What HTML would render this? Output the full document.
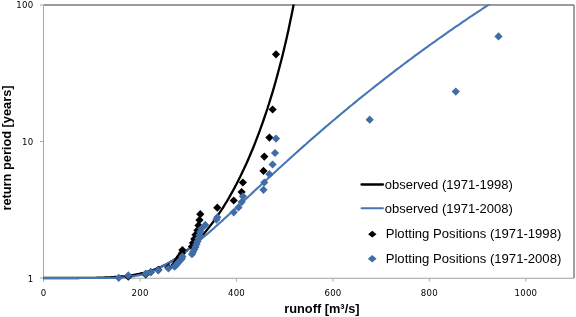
<!DOCTYPE html><html><head><meta charset="utf-8"><title>chart</title><style>html,body{margin:0;padding:0;background:#fff}svg{display:block}text{font-family:"Liberation Sans",sans-serif;fill:#000}.t{font-family:"DejaVu Sans",sans-serif;font-size:8.6px;letter-spacing:0.25px}.l{font-size:13px}.b{font-weight:bold}</style></head><body>
<svg width="576" height="317" viewBox="0 0 576 317">
<rect width="576" height="317" fill="#fff"/>
<clipPath id="c"><rect x="38.5" y="4.5" width="535.5" height="281.0"/></clipPath>
<g stroke="#7a7a7a" fill="none">
<path d="M43.5 5.0H574.0" stroke-width="1.6"/>
<path d="M574.0 5.0V278.0" stroke-width="1.4"/>
<path d="M43.5 5.0V278.0" stroke-width="1" stroke="#a8a8a8"/>
<path d="M43.5 278.2H574.0" stroke-width="1.1" stroke="#a2a2a2"/>
<path d="M40.0 5.0H43.5" stroke-width="1" stroke="#a8a8a8"/>
<path d="M40.0 141.5H43.5" stroke-width="1" stroke="#a8a8a8"/>
<path d="M40.0 278.0H43.5" stroke-width="1" stroke="#a8a8a8"/>
<path d="M43.5 278.0V281.5" stroke-width="1" stroke="#a8a8a8"/>
<path d="M140.0 278.0V281.5" stroke-width="1" stroke="#a8a8a8"/>
<path d="M236.4 278.0V281.5" stroke-width="1" stroke="#a8a8a8"/>
<path d="M332.9 278.0V281.5" stroke-width="1" stroke="#a8a8a8"/>
<path d="M429.3 278.0V281.5" stroke-width="1" stroke="#a8a8a8"/>
<path d="M525.8 278.0V281.5" stroke-width="1" stroke="#a8a8a8"/>
</g>
<text class="t" x="33.4" y="8.1" text-anchor="end">100</text>
<text class="t" x="33.4" y="144.6" text-anchor="end">10</text>
<text class="t" x="33.4" y="282.4" text-anchor="end">1</text>
<text class="t" x="43.6" y="296" text-anchor="middle">0</text>
<text class="t" x="140.1" y="296" text-anchor="middle">200</text>
<text class="t" x="236.5" y="296" text-anchor="middle">400</text>
<text class="t" x="333.0" y="296" text-anchor="middle">600</text>
<text class="t" x="429.4" y="296" text-anchor="middle">800</text>
<text class="t" x="525.9" y="296" text-anchor="middle">1000</text>
<text class="b" font-size="12.8" transform="translate(10.8 148) rotate(-90)" text-anchor="middle">return period [years]</text>
<text class="b" font-size="12.8" x="321.9" y="312.6" text-anchor="middle">runoff [m³/s]</text>
<g clip-path="url(#c)">
<path d="M43.5 278.0 L45.4 278.0 L47.4 278.0 L49.3 278.0 L51.2 278.0 L53.1 278.0 L55.1 278.0 L57.0 278.0 L58.9 278.0 L60.9 278.0 L62.8 278.0 L64.7 278.0 L66.6 278.0 L68.6 278.0 L70.5 278.0 L72.4 278.0 L74.4 278.0 L76.3 278.0 L78.2 278.0 L80.2 277.9 L82.1 277.9 L84.0 277.9 L85.9 277.9 L87.9 277.9 L89.8 277.9 L91.7 277.8 L93.7 277.8 L95.6 277.8 L97.5 277.7 L99.4 277.7 L101.4 277.6 L103.3 277.6 L105.2 277.5 L107.2 277.4 L109.1 277.3 L111.0 277.2 L112.9 277.1 L114.9 277.0 L116.8 276.9 L118.7 276.7 L120.7 276.5 L122.6 276.4 L124.5 276.2 L126.5 275.9 L128.4 275.7 L130.3 275.4 L132.2 275.1 L134.2 274.8 L136.1 274.5 L138.0 274.1 L140.0 273.7 L141.9 273.2 L143.8 272.8 L145.7 272.3 L147.7 271.7 L149.6 271.1 L151.5 270.5 L153.5 269.9 L155.4 269.2 L157.3 268.4 L159.2 267.6 L161.2 266.8 L163.1 265.9 L165.0 265.0 L167.0 264.0 L168.9 262.9 L170.8 261.8 L172.7 260.7 L174.7 259.5 L176.6 258.2 L178.5 256.9 L180.5 255.5 L182.4 254.1 L184.3 252.6 L186.3 251.0 L188.2 249.4 L190.1 247.7 L192.0 245.9 L194.0 244.1 L195.9 242.2 L197.8 240.2 L199.8 238.2 L201.7 236.1 L203.6 233.9 L205.5 231.7 L207.5 229.3 L209.4 226.9 L211.3 224.4 L213.3 221.8 L215.2 219.2 L217.1 216.5 L219.0 213.6 L221.0 210.7 L222.9 207.8 L224.8 204.7 L226.8 201.5 L228.7 198.2 L230.6 194.9 L232.6 191.4 L234.5 187.9 L236.4 184.2 L238.3 180.5 L240.3 176.6 L242.2 172.6 L244.1 168.5 L246.1 164.3 L248.0 160.0 L249.9 155.5 L251.8 151.0 L253.8 146.2 L255.7 141.4 L257.6 136.4 L259.6 131.2 L261.5 125.9 L263.4 120.5 L265.3 114.8 L267.3 109.0 L269.2 103.0 L271.1 96.8 L273.1 90.4 L275.0 83.7 L276.9 76.9 L278.8 69.7 L280.8 62.3 L282.7 54.7 L284.6 46.7 L286.6 38.3 L288.5 29.7 L290.4 20.6 L292.4 11.1 L294.3 1.2 L296.2 -9.2" fill="none" stroke="#000" stroke-width="2.3" stroke-linejoin="round"/>
<path d="M43.5 278.0 L45.4 278.0 L47.4 278.0 L49.3 278.0 L51.2 278.0 L53.1 278.0 L55.1 278.0 L57.0 278.0 L58.9 278.0 L60.9 278.0 L62.8 278.0 L64.7 278.0 L66.6 278.0 L68.6 278.0 L70.5 278.0 L72.4 278.0 L74.4 278.0 L76.3 278.0 L78.2 278.0 L80.2 278.0 L82.1 278.0 L84.0 278.0 L85.9 278.0 L87.9 278.0 L89.8 278.0 L91.7 278.0 L93.7 278.0 L95.6 278.0 L97.5 278.0 L99.4 278.0 L101.4 278.0 L103.3 278.0 L105.2 278.0 L107.2 278.0 L109.1 277.9 L111.0 277.9 L112.9 277.9 L114.9 277.8 L116.8 277.8 L118.7 277.7 L120.7 277.6 L122.6 277.5 L124.5 277.3 L126.5 277.2 L128.4 277.0 L130.3 276.7 L132.2 276.4 L134.2 276.1 L136.1 275.8 L138.0 275.4 L140.0 275.0 L141.9 274.5 L143.8 273.9 L145.7 273.4 L147.7 272.7 L149.6 272.1 L151.5 271.3 L153.5 270.6 L155.4 269.7 L157.3 268.9 L159.2 268.0 L161.2 267.0 L163.1 266.0 L165.0 264.9 L167.0 263.9 L168.9 262.7 L170.8 261.6 L172.7 260.4 L174.7 259.1 L176.6 257.8 L178.5 256.5 L180.5 255.2 L182.4 253.8 L184.3 252.4 L186.3 251.0 L188.2 249.5 L190.1 248.0 L192.0 246.5 L194.0 245.0 L195.9 243.4 L197.8 241.9 L199.8 240.3 L201.7 238.6 L203.6 237.0 L205.5 235.4 L207.5 233.7 L209.4 232.1 L211.3 230.4 L213.3 228.7 L215.2 227.0 L217.1 225.3 L219.0 223.5 L221.0 221.8 L222.9 220.1 L224.8 218.3 L226.8 216.5 L228.7 214.8 L230.6 213.0 L232.6 211.2 L234.5 209.5 L236.4 207.7 L238.3 205.9 L240.3 204.1 L242.2 202.3 L244.1 200.6 L246.1 198.8 L248.0 197.0 L249.9 195.2 L251.8 193.4 L253.8 191.6 L255.7 189.8 L257.6 188.0 L259.6 186.2 L261.5 184.5 L263.4 182.7 L265.3 180.9 L267.3 179.1 L269.2 177.3 L271.1 175.6 L273.1 173.8 L275.0 172.0 L276.9 170.3 L278.8 168.5 L280.8 166.7 L282.7 165.0 L284.6 163.2 L286.6 161.5 L288.5 159.7 L290.4 158.0 L292.4 156.2 L294.3 154.5 L296.2 152.8 L298.1 151.1 L300.1 149.3 L302.0 147.6 L303.9 145.9 L305.9 144.2 L307.8 142.5 L309.7 140.8 L311.6 139.1 L313.6 137.4 L315.5 135.7 L317.4 134.1 L319.4 132.4 L321.3 130.7 L323.2 129.1 L325.1 127.4 L327.1 125.7 L329.0 124.1 L330.9 122.5 L332.9 120.8 L334.8 119.2 L336.7 117.6 L338.7 115.9 L340.6 114.3 L342.5 112.7 L344.4 111.1 L346.4 109.5 L348.3 107.9 L350.2 106.3 L352.2 104.7 L354.1 103.1 L356.0 101.6 L357.9 100.0 L359.9 98.4 L361.8 96.9 L363.7 95.3 L365.7 93.8 L367.6 92.2 L369.5 90.7 L371.4 89.2 L373.4 87.6 L375.3 86.1 L377.2 84.6 L379.2 83.1 L381.1 81.6 L383.0 80.1 L384.9 78.6 L386.9 77.1 L388.8 75.6 L390.7 74.1 L392.7 72.6 L394.6 71.1 L396.5 69.7 L398.5 68.2 L400.4 66.7 L402.3 65.3 L404.2 63.8 L406.2 62.4 L408.1 60.9 L410.0 59.5 L412.0 58.1 L413.9 56.6 L415.8 55.2 L417.7 53.8 L419.7 52.4 L421.6 51.0 L423.5 49.6 L425.5 48.2 L427.4 46.8 L429.3 45.4 L431.2 44.0 L433.2 42.6 L435.1 41.3 L437.0 39.9 L439.0 38.5 L440.9 37.2 L442.8 35.8 L444.8 34.4 L446.7 33.1 L448.6 31.7 L450.5 30.4 L452.5 29.1 L454.4 27.7 L456.3 26.4 L458.3 25.1 L460.2 23.8 L462.1 22.4 L464.0 21.1 L466.0 19.8 L467.9 18.5 L469.8 17.2 L471.8 15.9 L473.7 14.6 L475.6 13.3 L477.5 12.1 L479.5 10.8 L481.4 9.5 L483.3 8.2 L485.3 7.0 L487.2 5.7 L489.1 4.4 L491.0 3.2 L493.0 1.9 L494.9 0.7 L496.8 -0.6 L498.8 -1.8" fill="none" stroke="#4577b6" stroke-width="2.1" stroke-linejoin="round"/>
<path d="M276.0 50.2l4.1 4.1l-4.1 4.1l-4.1 -4.1z" fill="#000"/>
<path d="M272.6 105.4l4.1 4.1l-4.1 4.1l-4.1 -4.1z" fill="#000"/>
<path d="M269.4 133.5l4.1 4.1l-4.1 4.1l-4.1 -4.1z" fill="#000"/>
<path d="M264.3 152.5l4.1 4.1l-4.1 4.1l-4.1 -4.1z" fill="#000"/>
<path d="M263.5 166.8l4.1 4.1l-4.1 4.1l-4.1 -4.1z" fill="#000"/>
<path d="M242.9 178.4l4.1 4.1l-4.1 4.1l-4.1 -4.1z" fill="#000"/>
<path d="M241.6 188.0l4.1 4.1l-4.1 4.1l-4.1 -4.1z" fill="#000"/>
<path d="M233.7 196.4l4.1 4.1l-4.1 4.1l-4.1 -4.1z" fill="#000"/>
<path d="M217.3 203.6l4.1 4.1l-4.1 4.1l-4.1 -4.1z" fill="#000"/>
<path d="M200.3 210.1l4.1 4.1l-4.1 4.1l-4.1 -4.1z" fill="#000"/>
<path d="M199.5 216.0l4.1 4.1l-4.1 4.1l-4.1 -4.1z" fill="#000"/>
<path d="M198.5 221.3l4.1 4.1l-4.1 4.1l-4.1 -4.1z" fill="#000"/>
<path d="M197.5 226.2l4.1 4.1l-4.1 4.1l-4.1 -4.1z" fill="#000"/>
<path d="M195.5 230.7l4.1 4.1l-4.1 4.1l-4.1 -4.1z" fill="#000"/>
<path d="M194.3 234.9l4.1 4.1l-4.1 4.1l-4.1 -4.1z" fill="#000"/>
<path d="M193.0 238.8l4.1 4.1l-4.1 4.1l-4.1 -4.1z" fill="#000"/>
<path d="M192.0 242.5l4.1 4.1l-4.1 4.1l-4.1 -4.1z" fill="#000"/>
<path d="M182.4 245.9l4.1 4.1l-4.1 4.1l-4.1 -4.1z" fill="#000"/>
<path d="M181.8 249.2l4.1 4.1l-4.1 4.1l-4.1 -4.1z" fill="#000"/>
<path d="M179.8 252.3l4.1 4.1l-4.1 4.1l-4.1 -4.1z" fill="#000"/>
<path d="M178.0 255.2l4.1 4.1l-4.1 4.1l-4.1 -4.1z" fill="#000"/>
<path d="M176.4 258.0l4.1 4.1l-4.1 4.1l-4.1 -4.1z" fill="#000"/>
<path d="M174.6 260.7l4.1 4.1l-4.1 4.1l-4.1 -4.1z" fill="#000"/>
<path d="M168.4 263.3l4.1 4.1l-4.1 4.1l-4.1 -4.1z" fill="#000"/>
<path d="M158.3 265.7l4.1 4.1l-4.1 4.1l-4.1 -4.1z" fill="#000"/>
<path d="M150.7 268.1l4.1 4.1l-4.1 4.1l-4.1 -4.1z" fill="#000"/>
<path d="M145.7 270.3l4.1 4.1l-4.1 4.1l-4.1 -4.1z" fill="#000"/>
<path d="M128.3 272.5l4.1 4.1l-4.1 4.1l-4.1 -4.1z" fill="#000"/>
<path d="M498.5 32.3l4.1 4.1l-4.1 4.1l-4.1 -4.1z" fill="#416da6"/>
<path d="M455.8 87.5l4.1 4.1l-4.1 4.1l-4.1 -4.1z" fill="#416da6"/>
<path d="M369.7 115.6l4.1 4.1l-4.1 4.1l-4.1 -4.1z" fill="#416da6"/>
<path d="M276.0 134.5l4.1 4.1l-4.1 4.1l-4.1 -4.1z" fill="#416da6"/>
<path d="M275.0 148.9l4.1 4.1l-4.1 4.1l-4.1 -4.1z" fill="#416da6"/>
<path d="M272.6 160.4l4.1 4.1l-4.1 4.1l-4.1 -4.1z" fill="#416da6"/>
<path d="M269.4 170.1l4.1 4.1l-4.1 4.1l-4.1 -4.1z" fill="#416da6"/>
<path d="M264.3 178.4l4.1 4.1l-4.1 4.1l-4.1 -4.1z" fill="#416da6"/>
<path d="M263.5 185.7l4.1 4.1l-4.1 4.1l-4.1 -4.1z" fill="#416da6"/>
<path d="M242.9 192.2l4.1 4.1l-4.1 4.1l-4.1 -4.1z" fill="#416da6"/>
<path d="M241.6 198.0l4.1 4.1l-4.1 4.1l-4.1 -4.1z" fill="#416da6"/>
<path d="M238.5 203.3l4.1 4.1l-4.1 4.1l-4.1 -4.1z" fill="#416da6"/>
<path d="M233.7 208.2l4.1 4.1l-4.1 4.1l-4.1 -4.1z" fill="#416da6"/>
<path d="M217.3 213.2l4.1 4.1l-4.1 4.1l-4.1 -4.1z" fill="#416da6"/>
<path d="M216.4 215.5l4.1 4.1l-4.1 4.1l-4.1 -4.1z" fill="#416da6"/>
<path d="M205.3 220.8l4.1 4.1l-4.1 4.1l-4.1 -4.1z" fill="#416da6"/>
<path d="M201.5 224.5l4.1 4.1l-4.1 4.1l-4.1 -4.1z" fill="#416da6"/>
<path d="M200.3 228.0l4.1 4.1l-4.1 4.1l-4.1 -4.1z" fill="#416da6"/>
<path d="M199.5 231.2l4.1 4.1l-4.1 4.1l-4.1 -4.1z" fill="#416da6"/>
<path d="M198.5 234.3l4.1 4.1l-4.1 4.1l-4.1 -4.1z" fill="#416da6"/>
<path d="M197.5 237.3l4.1 4.1l-4.1 4.1l-4.1 -4.1z" fill="#416da6"/>
<path d="M196.5 240.1l4.1 4.1l-4.1 4.1l-4.1 -4.1z" fill="#416da6"/>
<path d="M195.5 242.8l4.1 4.1l-4.1 4.1l-4.1 -4.1z" fill="#416da6"/>
<path d="M194.3 245.3l4.1 4.1l-4.1 4.1l-4.1 -4.1z" fill="#416da6"/>
<path d="M193.0 247.8l4.1 4.1l-4.1 4.1l-4.1 -4.1z" fill="#416da6"/>
<path d="M192.0 250.1l4.1 4.1l-4.1 4.1l-4.1 -4.1z" fill="#416da6"/>
<path d="M182.4 252.4l4.1 4.1l-4.1 4.1l-4.1 -4.1z" fill="#416da6"/>
<path d="M181.8 254.6l4.1 4.1l-4.1 4.1l-4.1 -4.1z" fill="#416da6"/>
<path d="M179.8 256.7l4.1 4.1l-4.1 4.1l-4.1 -4.1z" fill="#416da6"/>
<path d="M178.0 258.7l4.1 4.1l-4.1 4.1l-4.1 -4.1z" fill="#416da6"/>
<path d="M176.4 260.7l4.1 4.1l-4.1 4.1l-4.1 -4.1z" fill="#416da6"/>
<path d="M174.6 262.6l4.1 4.1l-4.1 4.1l-4.1 -4.1z" fill="#416da6"/>
<path d="M168.4 264.4l4.1 4.1l-4.1 4.1l-4.1 -4.1z" fill="#416da6"/>
<path d="M158.3 266.2l4.1 4.1l-4.1 4.1l-4.1 -4.1z" fill="#416da6"/>
<path d="M150.7 268.0l4.1 4.1l-4.1 4.1l-4.1 -4.1z" fill="#416da6"/>
<path d="M145.7 269.6l4.1 4.1l-4.1 4.1l-4.1 -4.1z" fill="#416da6"/>
<path d="M128.3 271.3l4.1 4.1l-4.1 4.1l-4.1 -4.1z" fill="#416da6"/>
<path d="M118.7 273.7l4.1 4.1l-4.1 4.1l-4.1 -4.1z" fill="#416da6"/>
</g>
<path d="M361.5 184.5H383" stroke="#000" stroke-width="2.3" stroke-linecap="round"/>
<path d="M361.5 208.3H383" stroke="#4577b6" stroke-width="1.9" stroke-linecap="round"/>
<path d="M372.3 230.8l4.2 3.4l-4.2 3.4l-4.2 -3.4z" fill="#000"/>
<path d="M372.2 255.1l4.4 3.7l-4.4 3.7l-4.4 -3.7z" fill="#416da6"/>
<text class="l" x="384.8" y="188.5">observed (1971-1998)</text>
<text class="l" x="384.8" y="212.6">observed (1971-2008)</text>
<text class="l" x="385.7" y="238.3" style="font-size:13.12px">Plotting Positions (1971-1998)</text>
<text class="l" x="385.7" y="262.7" style="font-size:13.12px">Plotting Positions (1971-2008)</text>
</svg></body></html>
